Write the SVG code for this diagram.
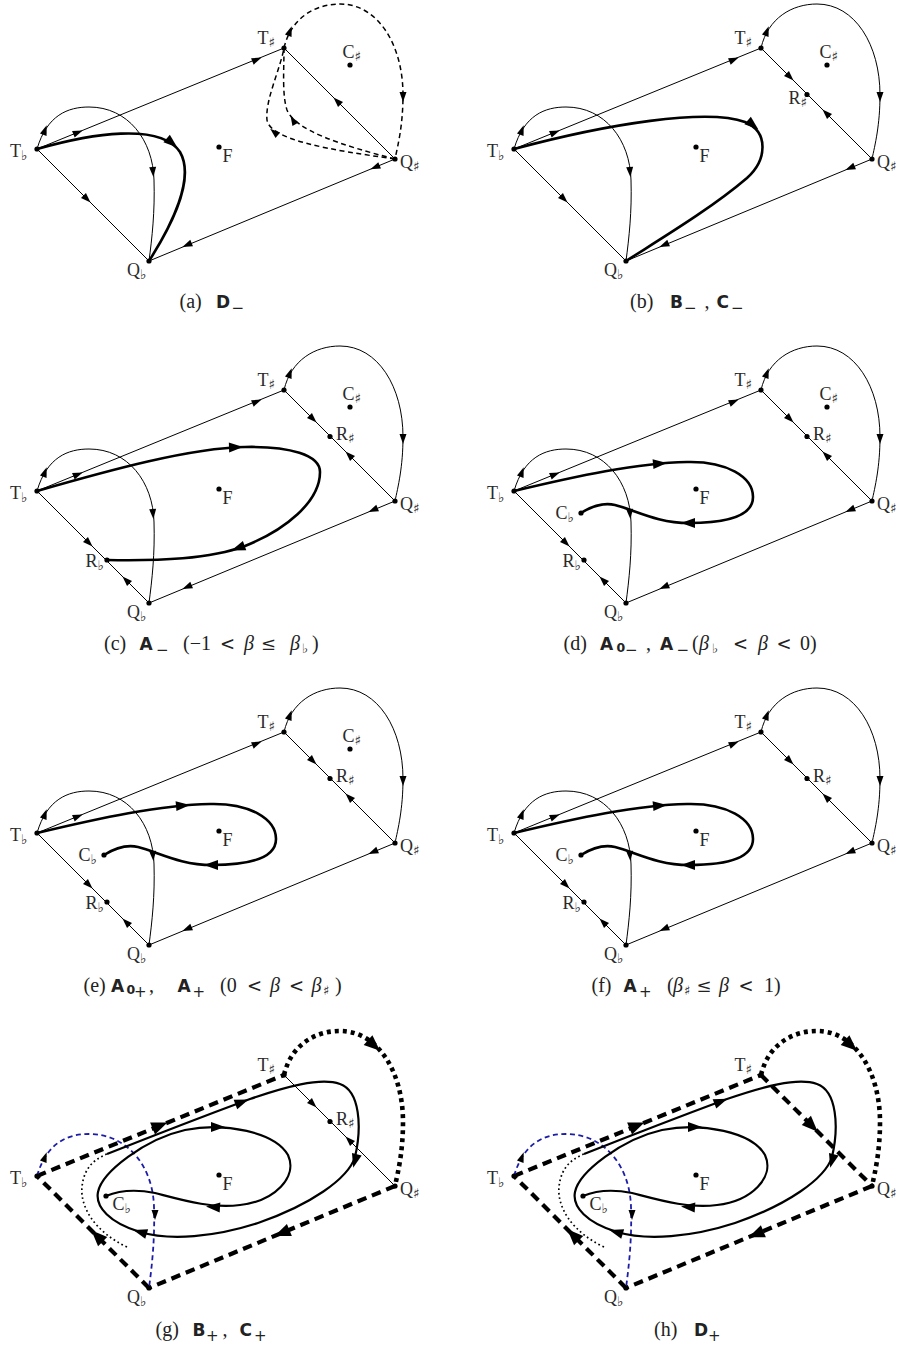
<svg xmlns="http://www.w3.org/2000/svg" width="899" height="1349" viewBox="0 0 899 1349">
<style>
.ln{fill:none;stroke:#000;stroke-width:1}
.th{fill:none;stroke:#000;stroke-width:2.6}
.sp{fill:none;stroke:#000;stroke-width:2.2}
.ds{fill:none;stroke:#000;stroke-width:1.5;stroke-dasharray:5 3.5}
.hd{fill:none;stroke:#000;stroke-width:4.2;stroke-dasharray:9.5 6}
.hdot{fill:none;stroke:#000;stroke-width:4.6;stroke-dasharray:4 4}
.bl{fill:none;stroke:#1c1ca8;stroke-width:1.8;stroke-dasharray:5 3.5}
.dt{fill:none;stroke:#000;stroke-width:1.7;stroke-dasharray:1.7 2.8}
.lb{font-family:"Liberation Serif","DejaVu Serif",serif;font-size:18px;fill:#2a2a2a}
.sb{font-family:"DejaVu Sans",sans-serif;font-size:13.5px}
.cap{font-family:"Liberation Serif","DejaVu Serif",serif;font-size:20px;fill:#222}
.bs{font-family:"DejaVu Sans","Liberation Sans",sans-serif;font-weight:bold;font-size:17px}
.bs0{font-family:"DejaVu Sans","Liberation Sans",sans-serif;font-weight:bold;font-size:12.5px}
.bsub{font-family:"DejaVu Sans","Liberation Sans",sans-serif;font-size:15px}
.rel{font-family:"DejaVu Serif","Liberation Serif",serif;font-size:18px}
.it{font-style:italic}
.csb{font-family:"DejaVu Sans",sans-serif;font-size:13px}
circle{fill:#000}
</style>
<defs>
<path id="ah" d="M5,0 L-5,-3.5 L-5,3.5 Z" fill="#000"/>
<path id="ahb" d="M7,0 L-7,-5 L-7,5 Z" fill="#000"/>
<path id="ahh" d="M8,0 L-8,-6.5 L-8,6.5 Z" fill="#000"/>
</defs>

<!-- ================= (a) ================= -->
<g id="panel-a" transform="translate(0,0)">
 <g id="a-connectors">
  <path class="ln" d="M37,149 L284,48"/>
  <path class="ln" d="M37,149 L149,261"/>
  <path class="ln" d="M395,159 L149,261"/>
  <path class="ln" d="M395,159 L284,48"/>
  <path class="ln" d="M37,149 C47,115 68,107 89,107 C128,107 153,140 154,180 C155,212 152,238 149,261"/>
  <path class="ds" d="M284,48 C291,18 315,4 340,4 C378,4 403,45 403,95 C403,125 398,145 395,159"/>
  <path class="ds" d="M395,159 C330,150 270,140 267,120 C265,100 280,70 284,48"/>
  <path class="ds" d="M395,159 C340,145 295,130 287,110 C282,95 284,70 284,48"/>
  <path class="th" d="M37,149 C90,134 160,122 180,152 C195,178 172,225 149,261"/>
  <use href="#ah" transform="translate(78,132.3) rotate(-22.2)"/>
  <use href="#ah" transform="translate(257,59.5) rotate(-22.2)"/>
  <use href="#ah" transform="translate(87,199) rotate(45)"/>
  <use href="#ah" transform="translate(375,167.3) rotate(157.5)"/>
  <use href="#ah" transform="translate(187,245) rotate(157.5)"/>
  <use href="#ah" transform="translate(337,101) rotate(-135)"/>
  <use href="#ah" transform="translate(45,130) rotate(-70)"/>
  <use href="#ah" transform="translate(153,172) rotate(86)"/>
  <use href="#ah" transform="translate(290,31) rotate(-70)"/>
  <use href="#ah" transform="translate(403,97) rotate(90)"/>
  <use href="#ah" transform="translate(274,132) rotate(-140)"/>
  <use href="#ah" transform="translate(293,120) rotate(-120)"/>
  <use href="#ahb" transform="translate(172,143) rotate(40)"/>
 </g>
 <g id="a-Tb"><circle cx="37" cy="149" r="2.6"/><text class="lb" x="10" y="157">T<tspan class="sb" dy="3">♭</tspan></text></g>
 <g id="a-Qb"><circle cx="149" cy="261" r="2.6"/><text class="lb" x="127" y="276">Q<tspan class="sb" dy="3">♭</tspan></text></g>
 <g id="a-Ts"><circle cx="284" cy="48" r="2.6"/><text class="lb" x="257.5" y="44">T<tspan class="sb" dy="3">♯</tspan></text></g>
 <g id="a-Qs"><circle cx="395" cy="159" r="2.6"/><text class="lb" x="400" y="168">Q<tspan class="sb" dy="3">♯</tspan></text></g>
 <g id="a-Cs"><circle cx="350" cy="65" r="2.6"/><text class="lb" x="342.5" y="58">C<tspan class="sb" dy="3">♯</tspan></text></g>
 <g id="a-F"><circle cx="219" cy="147" r="2.6"/><text class="lb" x="222.5" y="162">F</text></g>
 <text id="a-caption" class="cap"><tspan x="179.5" y="308">(a)</tspan><tspan class="bs" x="216" y="308">D</tspan><tspan class="bsub" x="231.5" y="313">−</tspan></text>
</g>

<!-- ================= (b) ================= -->
<g id="panel-b" transform="translate(477,0)">
 <g id="b-connectors">
  <path class="ln" d="M37,149 L284,48"/>
  <path class="ln" d="M37,149 L149,261"/>
  <path class="ln" d="M395,159 L149,261"/>
  <path class="ln" d="M395,159 L284,48"/>
  <path class="ln" d="M37,149 C47,115 68,107 89,107 C128,107 153,140 154,180 C155,212 152,238 149,261"/>
  <path class="ln" d="M284,48 C291,18 315,4 340,4 C378,4 403,45 403,95 C403,125 398,145 395,159"/>
  <path class="th" d="M37,149 C130,124 230,108 268,122 C292,132 290,160 270,178 C235,208 185,238 149,261"/>
  <use href="#ah" transform="translate(78,132.3) rotate(-22.2)"/>
  <use href="#ah" transform="translate(257,59.5) rotate(-22.2)"/>
  <use href="#ah" transform="translate(87,199) rotate(45)"/>
  <use href="#ah" transform="translate(373,168) rotate(157.5)"/>
  <use href="#ah" transform="translate(187,245) rotate(157.5)"/>
  <use href="#ah" transform="translate(313,77) rotate(45)"/>
  <use href="#ah" transform="translate(349,113) rotate(-135)"/>
  <use href="#ah" transform="translate(45,130) rotate(-70)"/>
  <use href="#ah" transform="translate(153,172) rotate(86)"/>
  <use href="#ah" transform="translate(290,31) rotate(-70)"/>
  <use href="#ah" transform="translate(403,97) rotate(90)"/>
  <use href="#ahb" transform="translate(276,125) rotate(40)"/>
 </g>
 <g id="b-Tb"><circle cx="37" cy="149" r="2.6"/><text class="lb" x="10" y="157">T<tspan class="sb" dy="3">♭</tspan></text></g>
 <g id="b-Qb"><circle cx="149" cy="261" r="2.6"/><text class="lb" x="127" y="276">Q<tspan class="sb" dy="3">♭</tspan></text></g>
 <g id="b-Ts"><circle cx="284" cy="48" r="2.6"/><text class="lb" x="257.5" y="44">T<tspan class="sb" dy="3">♯</tspan></text></g>
 <g id="b-Qs"><circle cx="395" cy="159" r="2.6"/><text class="lb" x="400" y="168">Q<tspan class="sb" dy="3">♯</tspan></text></g>
 <g id="b-Cs"><circle cx="350" cy="65" r="2.6"/><text class="lb" x="342.5" y="58">C<tspan class="sb" dy="3">♯</tspan></text></g>
 <g id="b-Rs"><circle cx="330" cy="94.5" r="2.6"/><text class="lb" x="311.5" y="104">R<tspan class="sb" dy="3">♯</tspan></text></g>
 <g id="b-F"><circle cx="219" cy="147" r="2.6"/><text class="lb" x="222.5" y="162">F</text></g>
 <text id="b-caption" class="cap"><tspan x="153" y="308">(b)</tspan><tspan class="bs" x="193" y="308">B</tspan><tspan class="bsub" x="207" y="313">−</tspan><tspan x="227.5" y="308">,</tspan><tspan class="bs" x="239.5" y="308">C</tspan><tspan class="bsub" x="254" y="313">−</tspan></text>
</g>

<!-- ================= (c) ================= -->
<g id="panel-c" transform="translate(0,342)">
 <g id="c-connectors">
  <path class="ln" d="M37,149 L284,48"/>
  <path class="ln" d="M37,149 L149,261"/>
  <path class="ln" d="M395,159 L149,261"/>
  <path class="ln" d="M395,159 L284,48"/>
  <path class="ln" d="M37,149 C47,115 68,107 89,107 C128,107 153,140 154,180 C155,212 152,238 149,261"/>
  <path class="ln" d="M284,48 C291,18 315,4 340,4 C378,4 403,45 403,95 C403,125 398,145 395,159"/>
  <path class="th" d="M37,149 C110,128 190,106 245,105 C290,104 320,113 320,130 C320,160 285,188 245,204 C210,217 160,219 107,218"/>
  <use href="#ah" transform="translate(78,132.3) rotate(-22.2)"/>
  <use href="#ah" transform="translate(257,59.5) rotate(-22.2)"/>
  <use href="#ah" transform="translate(89,201) rotate(45)"/>
  <use href="#ah" transform="translate(126,238) rotate(-135)"/>
  <use href="#ah" transform="translate(373,168) rotate(157.5)"/>
  <use href="#ah" transform="translate(187,245) rotate(157.5)"/>
  <use href="#ah" transform="translate(313,77) rotate(45)"/>
  <use href="#ah" transform="translate(349,113) rotate(-135)"/>
  <use href="#ah" transform="translate(45,130) rotate(-70)"/>
  <use href="#ah" transform="translate(153,172) rotate(86)"/>
  <use href="#ah" transform="translate(290,31) rotate(-70)"/>
  <use href="#ah" transform="translate(403,97) rotate(90)"/>
  <use href="#ahb" transform="translate(236,105.3) rotate(-2)"/>
  <use href="#ahb" transform="translate(238,206) rotate(160)"/>
 </g>
 <g id="c-Tb"><circle cx="37" cy="149" r="2.6"/><text class="lb" x="10" y="157">T<tspan class="sb" dy="3">♭</tspan></text></g>
 <g id="c-Qb"><circle cx="149" cy="261" r="2.6"/><text class="lb" x="127" y="276">Q<tspan class="sb" dy="3">♭</tspan></text></g>
 <g id="c-Ts"><circle cx="284" cy="48" r="2.6"/><text class="lb" x="257.5" y="44">T<tspan class="sb" dy="3">♯</tspan></text></g>
 <g id="c-Qs"><circle cx="395" cy="159" r="2.6"/><text class="lb" x="400" y="168">Q<tspan class="sb" dy="3">♯</tspan></text></g>
 <g id="c-Cs"><circle cx="350" cy="65" r="2.6"/><text class="lb" x="342.5" y="58">C<tspan class="sb" dy="3">♯</tspan></text></g>
 <g id="c-Rs"><circle cx="330" cy="94.5" r="2.6"/><text class="lb" x="336" y="98">R<tspan class="sb" dy="3">♯</tspan></text></g>
 <g id="c-Rb"><circle cx="107" cy="218" r="2.6"/><text class="lb" x="85.5" y="225">R<tspan class="sb" dy="3">♭</tspan></text></g>
 <g id="c-F"><circle cx="219" cy="147" r="2.6"/><text class="lb" x="222.5" y="162">F</text></g>
 <text id="c-caption" class="cap"><tspan x="104" y="308">(c)</tspan><tspan class="bs" x="139.5" y="308">A</tspan><tspan class="bsub" x="156" y="313">−</tspan><tspan x="183" y="308">(−1</tspan><tspan class="rel" x="220" y="308">&lt;</tspan><tspan class="it" x="244" y="308">β</tspan><tspan class="rel" x="261" y="308">≤</tspan><tspan class="it" x="290" y="308">β</tspan><tspan class="csb" x="302" y="311">♭</tspan><tspan x="312" y="308">)</tspan></text>
</g>

<!-- ================= (d) ================= -->
<g id="panel-d" transform="translate(477,342)">
 <g id="d-connectors">
  <path class="ln" d="M37,149 L284,48"/>
  <path class="ln" d="M37,149 L149,261"/>
  <path class="ln" d="M395,159 L149,261"/>
  <path class="ln" d="M395,159 L284,48"/>
  <path class="ln" d="M37,149 C47,115 68,107 89,107 C128,107 153,140 154,180 C155,212 152,238 149,261"/>
  <path class="ln" d="M284,48 C291,18 315,4 340,4 C378,4 403,45 403,95 C403,125 398,145 395,159"/>
  <path class="th" d="M37,149 C100,134 160,121 210,120 C250,119 276,135 276,155 C276,174 250,181 212,181 C180,181 158,168 138,163 C125,160 112,166 104,171"/>
  <use href="#ah" transform="translate(78,132.3) rotate(-22.2)"/>
  <use href="#ah" transform="translate(257,59.5) rotate(-22.2)"/>
  <use href="#ah" transform="translate(89,201) rotate(45)"/>
  <use href="#ah" transform="translate(126,238) rotate(-135)"/>
  <use href="#ah" transform="translate(373,168) rotate(157.5)"/>
  <use href="#ah" transform="translate(187,245) rotate(157.5)"/>
  <use href="#ah" transform="translate(313,77) rotate(45)"/>
  <use href="#ah" transform="translate(349,113) rotate(-135)"/>
  <use href="#ah" transform="translate(45,130) rotate(-70)"/>
  <use href="#ah" transform="translate(153,172) rotate(86)"/>
  <use href="#ah" transform="translate(290,31) rotate(-70)"/>
  <use href="#ah" transform="translate(403,97) rotate(90)"/>
  <use href="#ahb" transform="translate(183,121.5) rotate(-5)"/>
  <use href="#ahb" transform="translate(211,181) rotate(180)"/>
 </g>
 <g id="d-Tb"><circle cx="37" cy="149" r="2.6"/><text class="lb" x="10" y="157">T<tspan class="sb" dy="3">♭</tspan></text></g>
 <g id="d-Qb"><circle cx="149" cy="261" r="2.6"/><text class="lb" x="127" y="276">Q<tspan class="sb" dy="3">♭</tspan></text></g>
 <g id="d-Ts"><circle cx="284" cy="48" r="2.6"/><text class="lb" x="257.5" y="44">T<tspan class="sb" dy="3">♯</tspan></text></g>
 <g id="d-Qs"><circle cx="395" cy="159" r="2.6"/><text class="lb" x="400" y="168">Q<tspan class="sb" dy="3">♯</tspan></text></g>
 <g id="d-Cs"><circle cx="350" cy="65" r="2.6"/><text class="lb" x="342.5" y="58">C<tspan class="sb" dy="3">♯</tspan></text></g>
 <g id="d-Rs"><circle cx="330" cy="94.5" r="2.6"/><text class="lb" x="336" y="98">R<tspan class="sb" dy="3">♯</tspan></text></g>
 <g id="d-Rb"><circle cx="107" cy="218" r="2.6"/><text class="lb" x="85.5" y="225">R<tspan class="sb" dy="3">♭</tspan></text></g>
 <g id="d-Cb"><circle cx="104" cy="171" r="2.6"/><text class="lb" x="78.5" y="177">C<tspan class="sb" dy="3">♭</tspan></text></g>
 <g id="d-F"><circle cx="219" cy="147" r="2.6"/><text class="lb" x="222.5" y="162">F</text></g>
 <text id="d-caption" class="cap"><tspan x="86.5" y="308">(d)</tspan><tspan class="bs" x="123" y="308">A</tspan><tspan class="bs0" x="139.5" y="310">0</tspan><tspan class="bsub" x="148" y="313">−</tspan><tspan x="169" y="308">,</tspan><tspan class="bs" x="183" y="308">A</tspan><tspan class="bsub" x="199.5" y="313">−</tspan><tspan x="215" y="308">(</tspan><tspan class="it" x="222" y="308">β</tspan><tspan class="csb" x="235" y="311">♭</tspan><tspan class="rel" x="256" y="308">&lt;</tspan><tspan class="it" x="281" y="308">β</tspan><tspan class="rel" x="299.5" y="308">&lt;</tspan><tspan x="323" y="308">0)</tspan></text>
</g>

<!-- ================= (e) ================= -->
<g id="panel-e" transform="translate(0,684)">
 <g id="e-connectors">
  <path class="ln" d="M37,149 L284,48"/>
  <path class="ln" d="M37,149 L149,261"/>
  <path class="ln" d="M395,159 L149,261"/>
  <path class="ln" d="M395,159 L284,48"/>
  <path class="ln" d="M37,149 C47,115 68,107 89,107 C128,107 153,140 154,180 C155,212 152,238 149,261"/>
  <path class="ln" d="M284,48 C291,18 315,4 340,4 C378,4 403,45 403,95 C403,125 398,145 395,159"/>
  <path class="th" d="M37,149 C100,134 160,121 210,120 C250,119 276,135 276,155 C276,174 250,181 212,181 C180,181 158,168 138,163 C125,160 112,166 104,171"/>
  <use href="#ah" transform="translate(78,132.3) rotate(-22.2)"/>
  <use href="#ah" transform="translate(257,59.5) rotate(-22.2)"/>
  <use href="#ah" transform="translate(89,201) rotate(45)"/>
  <use href="#ah" transform="translate(126,238) rotate(-135)"/>
  <use href="#ah" transform="translate(373,168) rotate(157.5)"/>
  <use href="#ah" transform="translate(187,245) rotate(157.5)"/>
  <use href="#ah" transform="translate(313,77) rotate(45)"/>
  <use href="#ah" transform="translate(349,113) rotate(-135)"/>
  <use href="#ah" transform="translate(45,130) rotate(-70)"/>
  <use href="#ah" transform="translate(153,172) rotate(86)"/>
  <use href="#ah" transform="translate(290,31) rotate(-70)"/>
  <use href="#ah" transform="translate(403,97) rotate(90)"/>
  <use href="#ahb" transform="translate(183,121.5) rotate(-5)"/>
  <use href="#ahb" transform="translate(211,181) rotate(180)"/>
 </g>
 <g id="e-Tb"><circle cx="37" cy="149" r="2.6"/><text class="lb" x="10" y="157">T<tspan class="sb" dy="3">♭</tspan></text></g>
 <g id="e-Qb"><circle cx="149" cy="261" r="2.6"/><text class="lb" x="127" y="276">Q<tspan class="sb" dy="3">♭</tspan></text></g>
 <g id="e-Ts"><circle cx="284" cy="48" r="2.6"/><text class="lb" x="257.5" y="44">T<tspan class="sb" dy="3">♯</tspan></text></g>
 <g id="e-Qs"><circle cx="395" cy="159" r="2.6"/><text class="lb" x="400" y="168">Q<tspan class="sb" dy="3">♯</tspan></text></g>
 <g id="e-Cs"><circle cx="350" cy="65" r="2.6"/><text class="lb" x="342.5" y="58">C<tspan class="sb" dy="3">♯</tspan></text></g>
 <g id="e-Rs"><circle cx="330" cy="94.5" r="2.6"/><text class="lb" x="336" y="98">R<tspan class="sb" dy="3">♯</tspan></text></g>
 <g id="e-Rb"><circle cx="107" cy="218" r="2.6"/><text class="lb" x="85.5" y="225">R<tspan class="sb" dy="3">♭</tspan></text></g>
 <g id="e-Cb"><circle cx="104" cy="171" r="2.6"/><text class="lb" x="78.5" y="177">C<tspan class="sb" dy="3">♭</tspan></text></g>
 <g id="e-F"><circle cx="219" cy="147" r="2.6"/><text class="lb" x="222.5" y="162">F</text></g>
 <text id="e-caption" class="cap"><tspan x="83.5" y="308">(e)</tspan><tspan class="bs" x="111" y="308">A</tspan><tspan class="bs0" x="126.5" y="310">0</tspan><tspan class="bsub" x="134" y="313">+</tspan><tspan x="149" y="308">,</tspan><tspan class="bs" x="177.5" y="308">A</tspan><tspan class="bsub" x="192.5" y="313">+</tspan><tspan x="220" y="308">(0</tspan><tspan class="rel" x="247" y="308">&lt;</tspan><tspan class="it" x="270" y="308">β</tspan><tspan class="rel" x="289" y="308">&lt;</tspan><tspan class="it" x="311.5" y="308">β</tspan><tspan class="csb" x="323" y="311">♯</tspan><tspan x="335" y="308">)</tspan></text>
</g>

<!-- ================= (f) ================= -->
<g id="panel-f" transform="translate(477,684)">
 <g id="f-connectors">
  <path class="ln" d="M37,149 L284,48"/>
  <path class="ln" d="M37,149 L149,261"/>
  <path class="ln" d="M395,159 L149,261"/>
  <path class="ln" d="M395,159 L284,48"/>
  <path class="ln" d="M37,149 C47,115 68,107 89,107 C128,107 153,140 154,180 C155,212 152,238 149,261"/>
  <path class="ln" d="M284,48 C291,18 315,4 340,4 C378,4 403,45 403,95 C403,125 398,145 395,159"/>
  <path class="th" d="M37,149 C100,134 160,121 210,120 C250,119 276,135 276,155 C276,174 250,181 212,181 C180,181 158,168 138,163 C125,160 112,166 104,171"/>
  <use href="#ah" transform="translate(78,132.3) rotate(-22.2)"/>
  <use href="#ah" transform="translate(257,59.5) rotate(-22.2)"/>
  <use href="#ah" transform="translate(89,201) rotate(45)"/>
  <use href="#ah" transform="translate(126,238) rotate(-135)"/>
  <use href="#ah" transform="translate(373,168) rotate(157.5)"/>
  <use href="#ah" transform="translate(187,245) rotate(157.5)"/>
  <use href="#ah" transform="translate(313,77) rotate(45)"/>
  <use href="#ah" transform="translate(349,113) rotate(-135)"/>
  <use href="#ah" transform="translate(45,130) rotate(-70)"/>
  <use href="#ah" transform="translate(153,172) rotate(86)"/>
  <use href="#ah" transform="translate(290,31) rotate(-70)"/>
  <use href="#ah" transform="translate(403,97) rotate(90)"/>
  <use href="#ahb" transform="translate(183,121.5) rotate(-5)"/>
  <use href="#ahb" transform="translate(211,181) rotate(180)"/>
 </g>
 <g id="f-Tb"><circle cx="37" cy="149" r="2.6"/><text class="lb" x="10" y="157">T<tspan class="sb" dy="3">♭</tspan></text></g>
 <g id="f-Qb"><circle cx="149" cy="261" r="2.6"/><text class="lb" x="127" y="276">Q<tspan class="sb" dy="3">♭</tspan></text></g>
 <g id="f-Ts"><circle cx="284" cy="48" r="2.6"/><text class="lb" x="257.5" y="44">T<tspan class="sb" dy="3">♯</tspan></text></g>
 <g id="f-Qs"><circle cx="395" cy="159" r="2.6"/><text class="lb" x="400" y="168">Q<tspan class="sb" dy="3">♯</tspan></text></g>
 <g id="f-Rs"><circle cx="330" cy="94.5" r="2.6"/><text class="lb" x="336" y="98">R<tspan class="sb" dy="3">♯</tspan></text></g>
 <g id="f-Rb"><circle cx="107" cy="218" r="2.6"/><text class="lb" x="85.5" y="225">R<tspan class="sb" dy="3">♭</tspan></text></g>
 <g id="f-Cb"><circle cx="104" cy="171" r="2.6"/><text class="lb" x="78.5" y="177">C<tspan class="sb" dy="3">♭</tspan></text></g>
 <g id="f-F"><circle cx="219" cy="147" r="2.6"/><text class="lb" x="222.5" y="162">F</text></g>
 <text id="f-caption" class="cap"><tspan x="114.5" y="308">(f)</tspan><tspan class="bs" x="146.5" y="308">A</tspan><tspan class="bsub" x="162" y="313">+</tspan><tspan x="190" y="308">(</tspan><tspan class="it" x="196" y="308">β</tspan><tspan class="csb" x="207" y="311">♯</tspan><tspan class="rel" x="219.5" y="308">≤</tspan><tspan class="it" x="242" y="308">β</tspan><tspan class="rel" x="261.5" y="308">&lt;</tspan><tspan x="287" y="308">1)</tspan></text>
</g>

<!-- ================= (g) ================= -->
<g id="panel-g" transform="translate(0,1027)">
 <g id="g-connectors">
  <path class="hd" d="M37,149 L284,48"/>
  <path class="hd" d="M149,261 L37,149"/>
  <path class="hd" d="M395,159 L149,261"/>
  <path class="hdot" d="M284,48 C291,18 315,4 340,4 C378,4 403,45 403,95 C403,125 398,145 395,159"/>
  <path class="ln" d="M284,48 L395,159"/>
  <path class="bl" d="M37,149 C47,115 68,107 89,107 C128,107 153,140 154,180 C155,212 152,238 149,261"/>
  <path class="dt" d="M127,220 C95,205 80,180 82,160 C84,140 95,132 107,127"/>
  <path class="sp" d="M107,127 C160,106 215,85 250,72 C285,60 320,50 340,57 C360,64 362,100 355,130 C348,152 310,178 258,196 C215,210 170,214 140,205 C110,196 95,180 98,165 C102,145 145,112 185,103 C225,95 275,105 288,128 C298,150 275,174 240,178 C212,182 182,173 155,166 C135,162 118,164 106,169"/>
  <use href="#ahh" transform="translate(160,98.5) rotate(-22.2)"/>
  <use href="#ahh" transform="translate(97,209) rotate(-135)"/>
  <use href="#ahh" transform="translate(282,206) rotate(157.5)"/>
  <use href="#ahh" transform="translate(374,18.5) rotate(42)"/>
  <use href="#ah" transform="translate(313,77) rotate(45)"/>
  <use href="#ah" transform="translate(349,113) rotate(-135)"/>
  <use href="#ah" transform="translate(45,130) rotate(-70)"/>
  <use href="#ah" transform="translate(155,188) rotate(90)"/>
  <use href="#ahb" transform="translate(242,75) rotate(-21)"/>
  <use href="#ahb" transform="translate(355,134) rotate(105)"/>
  <use href="#ahb" transform="translate(140,205) rotate(197)"/>
  <use href="#ahb" transform="translate(218,100) rotate(0)"/>
  <use href="#ahb" transform="translate(213,180) rotate(184)"/>
 </g>
 <g id="g-Tb"><circle cx="37" cy="149" r="2.6"/><text class="lb" x="10" y="157">T<tspan class="sb" dy="3">♭</tspan></text></g>
 <g id="g-Qb"><circle cx="149" cy="261" r="2.6"/><text class="lb" x="127" y="276">Q<tspan class="sb" dy="3">♭</tspan></text></g>
 <g id="g-Ts"><circle cx="284" cy="48" r="2.6"/><text class="lb" x="257.5" y="44">T<tspan class="sb" dy="3">♯</tspan></text></g>
 <g id="g-Qs"><circle cx="395" cy="159" r="2.6"/><text class="lb" x="400" y="168">Q<tspan class="sb" dy="3">♯</tspan></text></g>
 <g id="g-Rs"><circle cx="330" cy="94.5" r="2.6"/><text class="lb" x="336" y="98">R<tspan class="sb" dy="3">♯</tspan></text></g>
 <g id="g-Cb"><circle cx="106" cy="169" r="2.6"/><text class="lb" x="112.5" y="183">C<tspan class="sb" dy="3">♭</tspan></text></g>
 <g id="g-F"><circle cx="219" cy="148" r="2.6"/><text class="lb" x="222.5" y="163">F</text></g>
 <text id="g-caption" class="cap"><tspan x="155.5" y="309">(g)</tspan><tspan class="bs" x="192.5" y="309">B</tspan><tspan class="bsub" x="206" y="314">+</tspan><tspan x="222.5" y="309">,</tspan><tspan class="bs" x="239.5" y="309">C</tspan><tspan class="bsub" x="254" y="314">+</tspan></text>
</g>

<!-- ================= (h) ================= -->
<g id="panel-h" transform="translate(477,1027)">
 <g id="h-connectors">
  <path class="hd" d="M37,149 L284,48"/>
  <path class="hd" d="M149,261 L37,149"/>
  <path class="hd" d="M395,159 L149,261"/>
  <path class="hd" d="M284,48 L395,159"/>
  <path class="hdot" d="M284,48 C291,18 315,4 340,4 C378,4 403,45 403,95 C403,125 398,145 395,159"/>
  <path class="bl" d="M37,149 C47,115 68,107 89,107 C128,107 153,140 154,180 C155,212 152,238 149,261"/>
  <path class="dt" d="M127,220 C95,205 80,180 82,160 C84,140 95,132 107,127"/>
  <path class="sp" d="M107,127 C160,106 215,85 250,72 C285,60 320,50 340,57 C360,64 362,100 355,130 C348,152 310,178 258,196 C215,210 170,214 140,205 C110,196 95,180 98,165 C102,145 145,112 185,103 C225,95 275,105 288,128 C298,150 275,174 240,178 C212,182 182,173 155,166 C135,162 118,164 106,169"/>
  <use href="#ahh" transform="translate(160,98.5) rotate(-22.2)"/>
  <use href="#ahh" transform="translate(96,208) rotate(-135)"/>
  <use href="#ahh" transform="translate(279,207.3) rotate(157.5)"/>
  <use href="#ahh" transform="translate(374,18.5) rotate(42)"/>
  <use href="#ahh" transform="translate(335,99) rotate(45)"/>
  <use href="#ah" transform="translate(45,130) rotate(-70)"/>
  <use href="#ah" transform="translate(155,188) rotate(90)"/>
  <use href="#ahb" transform="translate(244,74.3) rotate(-21)"/>
  <use href="#ahb" transform="translate(355,134) rotate(105)"/>
  <use href="#ahb" transform="translate(139,205) rotate(197)"/>
  <use href="#ahb" transform="translate(218,100) rotate(0)"/>
  <use href="#ahb" transform="translate(211,180) rotate(184)"/>
 </g>
 <g id="h-Tb"><circle cx="37" cy="149" r="2.6"/><text class="lb" x="10" y="157">T<tspan class="sb" dy="3">♭</tspan></text></g>
 <g id="h-Qb"><circle cx="149" cy="261" r="2.6"/><text class="lb" x="127" y="276">Q<tspan class="sb" dy="3">♭</tspan></text></g>
 <g id="h-Ts"><circle cx="284" cy="48" r="2.6"/><text class="lb" x="257.5" y="44">T<tspan class="sb" dy="3">♯</tspan></text></g>
 <g id="h-Qs"><circle cx="395" cy="159" r="2.6"/><text class="lb" x="400" y="168">Q<tspan class="sb" dy="3">♯</tspan></text></g>
 <g id="h-Cb"><circle cx="106" cy="169" r="2.6"/><text class="lb" x="112.5" y="183">C<tspan class="sb" dy="3">♭</tspan></text></g>
 <g id="h-F"><circle cx="219" cy="148" r="2.6"/><text class="lb" x="222.5" y="163">F</text></g>
 <text id="h-caption" class="cap"><tspan x="177" y="309">(h)</tspan><tspan class="bs" x="217" y="309">D</tspan><tspan class="bsub" x="231" y="314">+</tspan></text>
</g>
</svg>
